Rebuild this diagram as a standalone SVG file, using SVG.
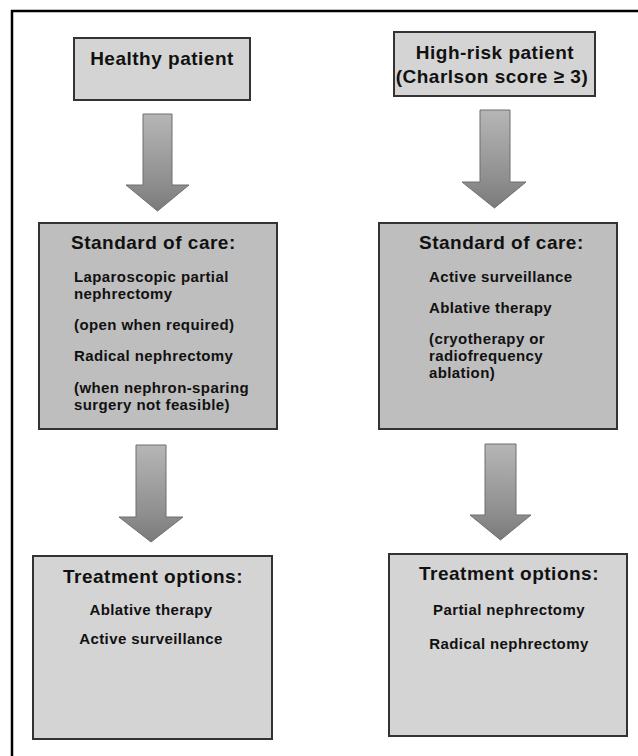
<svg xmlns="http://www.w3.org/2000/svg" width="638" height="756" viewBox="0 0 638 756">
<defs>
<linearGradient id="ag" x1="0" y1="0" x2="0" y2="1">
<stop offset="0" stop-color="#b6b6b6"/>
<stop offset="0.7" stop-color="#8f8f8f"/>
<stop offset="1" stop-color="#7a7a7a"/>
</linearGradient>
</defs>
<style>
.box{stroke:#333;stroke-width:2}
.light{fill:#d4d4d4}
.mid{fill:#bebebe}
.h{font-family:"Liberation Sans",Arial,sans-serif;font-weight:bold;font-size:19px;letter-spacing:0.5px;fill:#111}
.t{font-family:"Liberation Sans",Arial,sans-serif;font-weight:bold;font-size:15px;letter-spacing:0.4px;fill:#111}
.c{text-anchor:middle}
.arrow{fill:url(#ag);stroke:#6f6f6f;stroke-width:1}
</style>
<rect width="638" height="756" fill="#fff"/>
<path d="M12,756 V11 H638" fill="none" stroke="#000" stroke-width="2.5"/>

<g id="healthy">
<rect class="box light" x="74" y="38" width="176" height="62"/>
<text class="h c" x="162" y="65">Healthy patient</text>
</g>

<g id="highrisk">
<rect class="box light" x="394" y="32" width="201" height="64"/>
<text class="h c" x="495" y="59">High-risk patient</text>
<text class="h c" x="492" y="83">(Charlson score ≥ 3)</text>
</g>

<g id="soc-left">
<rect class="box mid" x="39" y="223" width="238" height="206"/>
<text class="h" x="71" y="249">Standard of care:</text>
<text class="t" x="74" y="282">Laparoscopic partial</text>
<text class="t" x="74" y="299">nephrectomy</text>
<text class="t" x="74" y="330">(open when required)</text>
<text class="t" x="74" y="361">Radical nephrectomy</text>
<text class="t" x="74" y="393">(when nephron-sparing</text>
<text class="t" x="74" y="410">surgery not feasible)</text>
</g>

<g id="soc-right">
<rect class="box mid" x="379" y="223" width="238" height="206"/>
<text class="h" x="419" y="249">Standard of care:</text>
<text class="t" x="429" y="282">Active surveillance</text>
<text class="t" x="429" y="313">Ablative therapy</text>
<text class="t" x="429" y="344">(cryotherapy or</text>
<text class="t" x="429" y="361">radiofrequency</text>
<text class="t" x="429" y="378">ablation)</text>
</g>

<g id="tx-left">
<rect class="box light" x="33" y="556" width="239" height="183"/>
<text class="h c" x="153" y="583">Treatment options:</text>
<text class="t c" x="151" y="615">Ablative therapy</text>
<text class="t c" x="151" y="644">Active surveillance</text>
</g>

<g id="tx-right">
<rect class="box light" x="389" y="554" width="238" height="182"/>
<text class="h c" x="509" y="580">Treatment options:</text>
<text class="t c" x="509" y="615">Partial nephrectomy</text>
<text class="t c" x="509" y="649">Radical nephrectomy</text>
</g>

<g id="connectors">
<path class="arrow" d="M143,114 H172 V185 H189 L157.5,211 L126,185 H143 Z"/>
<path class="arrow" d="M480,110 H510 V182 H526 L494.5,208 L462,182 H480 Z"/>
<path class="arrow" d="M136,445 H166 V517 H183 L151,542 L119,517 H136 Z"/>
<path class="arrow" d="M485,444 H516 V515 H531 L500.5,540 L470,515 H485 Z"/>
</g>
</svg>
